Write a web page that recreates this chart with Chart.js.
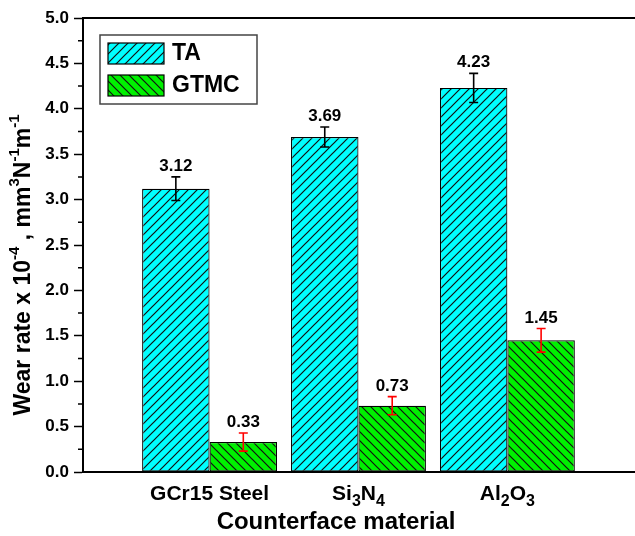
<!DOCTYPE html>
<html>
<head>
<meta charset="utf-8">
<script src="https://cdn.jsdelivr.net/npm/chart.js@4"></script>
<style>
  html, body { margin: 0; padding: 0; background: #fff; overflow: hidden; }
</style>
</head>
<body>
<canvas id="myChart" width="635" height="536"></canvas>
<script>
  const categories = ['GCr15 Steel', 'Si₃N₄', 'Al₂O₃'];
  const seriesNames = ['TA', 'GTMC'];
  const taValues = [3.12, 3.69, 4.23];
  const taErrors = [0.13, 0.11, 0.16];
  const gtmcValues = [0.33, 0.73, 1.45];
  const gtmcErrors = [0.10, 0.10, 0.13];
  const yTitle = 'Wear rate x 10⁻⁴ , mm³N⁻¹m⁻¹';
  const xTitle = 'Counterface material';

  const FONT = '"Liberation Sans", Arial, sans-serif';

  // hatch fills
  function hatch(bg, forward) {
    const s = 9;
    const c = document.createElement('canvas');
    c.width = s; c.height = s;
    const g = c.getContext('2d');
    g.fillStyle = bg;
    g.fillRect(0, 0, s, s);
    g.strokeStyle = '#111';
    g.lineWidth = 1.2;
    g.beginPath();
    if (forward) {
      g.moveTo(-1, s + 1); g.lineTo(s + 1, -1);
      g.moveTo(-1, 1); g.lineTo(1, -1);
      g.moveTo(s - 1, s + 1); g.lineTo(s + 1, s - 1);
    } else {
      g.moveTo(-1, -1); g.lineTo(s + 1, s + 1);
      g.moveTo(s - 1, -1); g.lineTo(s + 1, 1);
      g.moveTo(-1, s - 1); g.lineTo(1, s + 1);
    }
    g.stroke();
    return g.createPattern(c, 'repeat');
  }
  const taFill = hatch('#00ffff', true);
  const gtmcFill = hatch('#00f000', false);

  // text with unicode super/subscripts drawn as small raised/lowered digits
  const SUP = '⁰¹²³⁴⁵⁶⁷⁸⁹⁻', SUB = '₀₁₂₃₄₅₆₇₈₉';
  function parts(str) {
    const out = [];
    for (const ch of str) {
      let kind = 'n', t = ch;
      if (SUP.indexOf(ch) >= 0) { kind = 'sup'; t = ch === '⁻' ? '-' : String(SUP.indexOf(ch)); }
      else if (SUB.indexOf(ch) >= 0) { kind = 'sub'; t = String(SUB.indexOf(ch)); }
      const last = out[out.length - 1];
      if (last && last.kind === kind) last.t += t; else out.push({ t, kind });
    }
    return out;
  }
  function drawRich(ctx, str, x, y, size, small, supOff, subOff) {
    const ps = parts(str);
    let w = 0;
    ps.forEach(p => {
      ctx.font = 'bold ' + (p.kind === 'n' ? size : small) + 'px ' + FONT;
      p.w = ctx.measureText(p.t).width;
      w += p.w;
    });
    let cx = x - w / 2;
    ctx.textAlign = 'left';
    ctx.textBaseline = 'middle';
    ps.forEach(p => {
      ctx.font = 'bold ' + (p.kind === 'n' ? size : small) + 'px ' + FONT;
      const dy = p.kind === 'sup' ? -supOff : (p.kind === 'sub' ? subOff : 0);
      ctx.fillText(p.t, cx, y + dy);
      cx += p.w;
    });
  }

  const errors = [taErrors, gtmcErrors];
  const errColors = ['#000', '#ff0000'];

  const decorPlugin = {
    id: 'decor',
    afterDatasetsDraw(chart) {
      const ctx = chart.ctx;
      const ys = chart.scales.y;
      ctx.save();
      // error bars and value labels
      chart.data.datasets.forEach((ds, di) => {
        const meta = chart.getDatasetMeta(di);
        meta.data.forEach((bar, i) => {
          const v = ds.data[i].y, e = errors[di][i];
          const top = ys.getPixelForValue(v + e);
          const bot = ys.getPixelForValue(v - e);
          ctx.strokeStyle = errColors[di];
          ctx.lineWidth = 1.6;
          ctx.beginPath();
          ctx.moveTo(bar.x, top); ctx.lineTo(bar.x, bot);
          ctx.moveTo(bar.x - 4.5, top); ctx.lineTo(bar.x + 4.5, top);
          ctx.moveTo(bar.x - 4.5, bot); ctx.lineTo(bar.x + 4.5, bot);
          ctx.stroke();
          ctx.fillStyle = '#000';
          ctx.font = 'bold 17px ' + FONT;
          ctx.textAlign = 'center';
          ctx.textBaseline = 'alphabetic';
          ctx.fillText(v.toFixed(2), bar.x, top - 6);
        });
      });
      ctx.restore();
    },
    afterDraw(chart) {
      const ctx = chart.ctx;
      const area = chart.chartArea;
      const ys = chart.scales.y;
      const xs = chart.scales.x;
      ctx.save();
      // top frame line
      ctx.strokeStyle = '#000';
      ctx.lineWidth = 2;
      ctx.beginPath();
      ctx.moveTo(area.left - 1, area.top);
      ctx.lineTo(chart.width, area.top);
      ctx.stroke();
      // minor ticks
      ctx.lineWidth = 1.5;
      ctx.beginPath();
      for (let v = 0.25; v < 5; v += 0.5) {
        const y = ys.getPixelForValue(v);
        ctx.moveTo(area.left - 5, y); ctx.lineTo(area.left, y);
      }
      ctx.stroke();
      // category labels
      ctx.fillStyle = '#000';
      categories.forEach((c, i) => {
        drawRich(ctx, c, xs.getPixelForValue(i + 1), 494, 21, 16, 0, 8);
      });
      // axis titles
      drawRich(ctx, xTitle, 336, 522, 24, 16, 0, 0);
      ctx.save();
      ctx.translate(24, 265);
      ctx.rotate(-Math.PI / 2);
      drawRich(ctx, yTitle, 0, 0, 23, 15, 9, 0);
      ctx.restore();
      // legend
      const fills = [taFill, gtmcFill];
      ctx.strokeStyle = '#444';
      ctx.lineWidth = 1.5;
      ctx.strokeRect(100, 35, 157, 69);
      seriesNames.forEach((n, i) => {
        const y0 = 43 + i * 32;
        ctx.fillStyle = fills[i];
        ctx.fillRect(108, y0, 56, 21);
        ctx.strokeStyle = '#000';
        ctx.lineWidth = 1.2;
        ctx.strokeRect(108, y0, 56, 21);
        ctx.fillStyle = '#000';
        ctx.font = 'bold 23px ' + FONT;
        ctx.textAlign = 'left';
        ctx.textBaseline = 'middle';
        ctx.fillText(n, 172, y0 + 11);
      });
      ctx.restore();
    }
  };

  const data = {
    datasets: [
      {
        label: seriesNames[0],
        data: taValues.map((v, i) => ({ x: i + 1, y: v })),
        backgroundColor: taFill,
        borderColor: '#000',
        borderWidth: 1.2,
        borderSkipped: false
      },
      {
        label: seriesNames[1],
        data: gtmcValues.map((v, i) => ({ x: i + 1, y: v })),
        backgroundColor: gtmcFill,
        borderColor: '#000',
        borderWidth: 1.2,
        borderSkipped: false
      }
    ]
  };

  const config = {
    type: 'bar',
    data: data,
    options: {
      responsive: false,
      animation: false,
      devicePixelRatio: 1,
      categoryPercentage: 0.906,
      barPercentage: 1.0,
      layout: { padding: { top: 18, left: 0, right: 0, bottom: 0 } },
      plugins: { legend: { display: false }, tooltip: { enabled: false } },
      scales: {
        x: {
          type: 'linear',
          offset: false,
          min: 0.15,
          max: 3.857,
          afterBuildTicks(s) { s.ticks = categories.map((c, i) => ({ value: i + 1 })); },
          ticks: { display: false },
          grid: { display: false },
          border: { display: true, color: '#000', width: 2 },
          afterFit(s) { s.height = 64; }
        },
        y: {
          min: 0,
          max: 5,
          ticks: {
            stepSize: 0.5,
            color: '#000',
            font: { family: FONT, size: 17, weight: 'bold' },
            padding: 5,
            callback: v => v.toFixed(1)
          },
          grid: { drawOnChartArea: false, tickLength: 9, tickColor: '#000', tickWidth: 1.5 },
          border: { display: true, color: '#000', width: 2 },
          afterFit(s) { s.width = 83; }
        }
      }
    },
    plugins: [decorPlugin]
  };

  const myChart = new Chart(document.getElementById('myChart'), config);
</script>
</body>
</html>
